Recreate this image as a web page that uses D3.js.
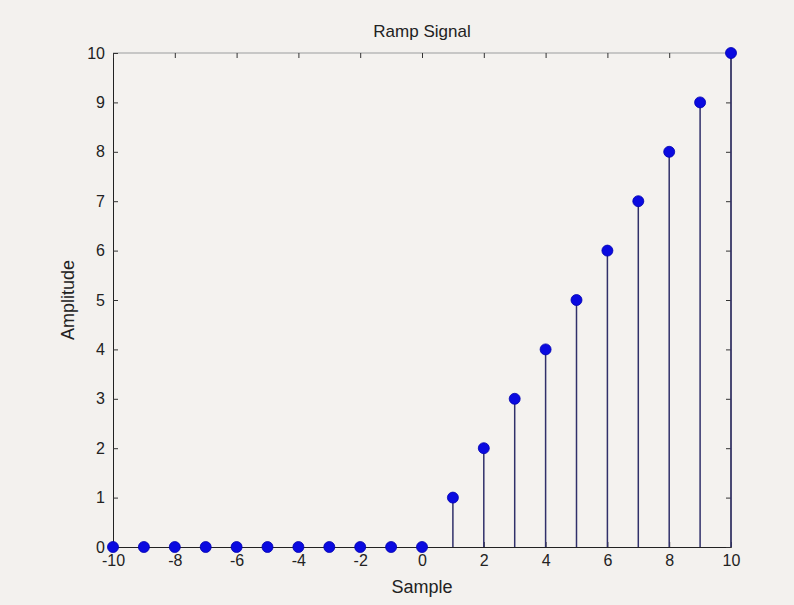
<!DOCTYPE html>
<html><head><meta charset="utf-8">
<script src="https://cdn.jsdelivr.net/npm/d3@7"></script>
<style>body{margin:0;background:#f3f1ee;}svg{display:block;font-family:"Liberation Sans",Arial,sans-serif;}</style>
</head><body><svg id="c" width="794" height="605"></svg>
<script>
const samples = [-10,-9,-8,-7,-6,-5,-4,-3,-2,-1,0,1,2,3,4,5,6,7,8,9,10];
const amplitudes = [0,0,0,0,0,0,0,0,0,0,0,1,2,3,4,5,6,7,8,9,10];
const xTicks = [-10,-8,-6,-4,-2,0,2,4,6,8,10];
const yTicks = [0,1,2,3,4,5,6,7,8,9,10];
const title = "Ramp Signal", xLabel = "Sample", yLabel = "Amplitude";

const svg = d3.select("#c");
const L=113, R=731, T=53, B=547;
const x = d3.scaleLinear().domain([-10,10]).range([L,R]);
const y = d3.scaleLinear().domain([0,10]).range([B,T]);

svg.append("rect").attr("width",794).attr("height",605).attr("fill","#f3f1ee");
svg.append("rect").attr("x",L).attr("y",T).attr("width",R-L).attr("height",B-T).attr("fill","#f4f2ef");

// box lines
svg.append("line").attr("x1",L).attr("x2",R).attr("y1",T).attr("y2",T).attr("stroke","#b8b8b8").attr("stroke-width",1.5);
svg.append("line").attr("x1",R).attr("x2",R).attr("y1",T).attr("y2",B).attr("stroke","#333").attr("stroke-width",1);

const fmt = d => String(d);
const ax = svg.append("g").attr("transform",`translate(0,${B})`)
  .call(d3.axisBottom(x).tickValues(xTicks).tickSize(-5).tickPadding(8).tickFormat(fmt));
const ay = svg.append("g").attr("transform",`translate(${L},0)`)
  .call(d3.axisLeft(y).tickValues(yTicks).tickSize(-5).tickPadding(8).tickFormat(fmt));
const axT = svg.append("g").attr("transform",`translate(0,${T})`)
  .call(d3.axisTop(x).tickValues(xTicks).tickSize(-5).tickFormat(""));
const ayR = svg.append("g").attr("transform",`translate(${R},0)`)
  .call(d3.axisRight(y).tickValues(yTicks).tickSize(-5).tickFormat(""));
[ax,ay,axT,ayR].forEach(g=>{
  g.selectAll("text").attr("font-size",16).attr("fill","#222").attr("font-family","Liberation Sans, Arial, sans-serif");
  g.selectAll(".tick line").attr("stroke","#333");
});
axT.select(".domain").remove(); ayR.select(".domain").remove();
ax.select(".domain").attr("stroke","#222");
ay.select(".domain").attr("stroke","#222");
ax.selectAll("text").attr("dy","0.71em");

// stems
const pts = samples.map((s,i)=>({s, a:amplitudes[i]}));
svg.append("g").selectAll("line").data(pts).join("line")
  .attr("x1",d=>x(d.s)).attr("x2",d=>x(d.s))
  .attr("y1",y(0)).attr("y2",d=>y(d.a))
  .attr("stroke","#30306a").attr("stroke-width",1.5);
svg.append("g").selectAll("circle").data(pts).join("circle")
  .attr("cx",d=>x(d.s)).attr("cy",d=>y(d.a)).attr("r",5.5)
  .attr("fill","#0a0ae0").attr("stroke","#0000b0").attr("stroke-width",0.8);

svg.append("text").attr("x",(L+R)/2).attr("y",37).attr("text-anchor","middle")
  .attr("font-size",17).attr("fill","#222").text(title);
svg.append("text").attr("x",(L+R)/2).attr("y",593).attr("text-anchor","middle")
  .attr("font-size",18).attr("fill","#222").text(xLabel);
svg.append("text").attr("transform",`translate(74,${(T+B)/2}) rotate(-90)`).attr("text-anchor","middle")
  .attr("font-size",18).attr("fill","#222").text(yLabel);
</script></body></html>
